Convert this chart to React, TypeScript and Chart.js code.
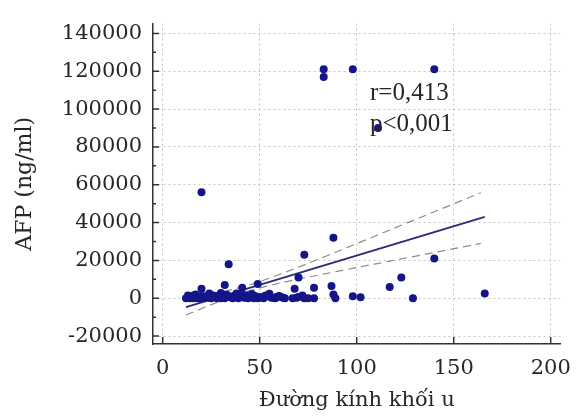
import React, { useEffect, useRef } from "react";
import { Chart, registerables } from "chart.js";

Chart.register(...registerables);

// Tumour diameter (x) and AFP (ng/ml) (y) for each patient
const sizeX: number[] = [
  83, 83, 98, 140, 111, 20, 88, 73, 34, 140, 166, 129, 123, 117, 70, 68, 78, 78, 87, 88, 89, 98, 102, 49, 41, 32, 20,
  12, 13, 13, 14, 15, 15, 16, 17, 18, 19, 20, 21, 22, 23, 24, 25, 26, 27, 28, 29, 30, 31, 32, 33, 35, 36, 37, 38, 39, 40,
  42, 43, 44, 45, 46, 47, 48, 50, 52, 53, 55, 56, 58, 59, 60, 62, 67, 70, 72, 75,
  14, 16, 18, 20, 22, 24, 26, 28, 30, 32, 34, 36, 38, 41, 44, 47, 49, 51, 54, 57, 61, 63, 69, 73,
];
const afpY: number[] = [
  121000, 117000, 121000, 121000, 90000, 56000, 32000, 23000, 18000, 21000, 2500, 0, 11000, 6000, 11000, 5000, 5500, 0,
  6500, 2000, 0, 1000, 500, 7500, 5500, 7000, 5000,
  0, 500, 1500, 0, 1000, 300, 0, 2000, 500, 0, 1200, 0, 400, 800, 2500, 0, 1500, 600, 0, 1000, 2800, 300, 0, 1800, 500,
  0, 1200, 2500, 0, 900, 300, 1600, 0, 600, 2200, 0, 1000, 400, 0, 1500, 2400, 300, 0, 800, 1200, 300, 0, 600, 1400, 0,
  800, 1500, 0, 600, 1000, 200, 700, 1200, 0, 500, 1000, 300, 700, 1800, 200, 900, 0, 600, 1000, 200, 700, 0, 300, 0,
];

// Regression line and 95% confidence band
const fitX: number[] = [12, 166];
const fitY: number[] = [-4700, 43000];
const bandX: number[] = [12, 30, 45, 60, 90, 120, 164];
const upperY: number[] = [-700, 3200, 7100, 12500, 24700, 37300, 55800];
const lowerY: number[] = [-8900, -1400, 4000, 7900, 14200, 20200, 29000];

const xTicks: number[] = [0, 50, 100, 150, 200];
const yTicks: number[] = [-20000, 0, 20000, 40000, 60000, 80000, 100000, 120000, 140000];
const yMinorTicks: number[] = [-10000, 10000, 30000, 50000, 70000, 90000, 110000, 130000];

const annotations: string[] = ["r=0,413", "p<0,001"];

const xTitle = "Đường kính khối u";
const yTitle = "AFP (ng/ml)";

const FONT = "'DejaVu Serif', serif";
const TEXT = "#262626";

const innerTicks = {
  id: "innerTicks",
  afterDatasetsDraw(chart: any) {
    const { ctx, chartArea, scales } = chart;
    const xs = scales.x;
    const ys = scales.y;
    ctx.save();
    ctx.strokeStyle = "#333";
    ctx.lineWidth = 1.5;
    ctx.setLineDash([]);
    ctx.beginPath();
    for (const v of xTicks) {
      const p = xs.getPixelForValue(v);
      ctx.moveTo(p, chartArea.bottom);
      ctx.lineTo(p, chartArea.bottom - 7);
    }
    for (const v of yTicks) {
      const p = ys.getPixelForValue(v);
      ctx.moveTo(chartArea.left, p);
      ctx.lineTo(chartArea.left + 6, p);
    }
    for (const v of yMinorTicks) {
      const p = ys.getPixelForValue(v);
      ctx.moveTo(chartArea.left, p);
      ctx.lineTo(chartArea.left + 3, p);
    }
    ctx.stroke();

    ctx.fillStyle = TEXT;
    ctx.font = "25px 'Liberation Serif', serif";
    ctx.textAlign = "left";
    ctx.textBaseline = "alphabetic";
    ctx.fillText(annotations[0], 370, 100);
    ctx.fillText(annotations[1], 370, 131);
    ctx.restore();
  },
};

export default function App() {
  const ref = useRef<HTMLCanvasElement>(null);

  useEffect(() => {
    if (!ref.current) return;
    const points = sizeX.map((x, i) => ({ x, y: afpY[i] }));
    const fit = fitX.map((x, i) => ({ x, y: fitY[i] }));
    const upper = bandX.map((x, i) => ({ x, y: upperY[i] }));
    const lower = bandX.map((x, i) => ({ x, y: lowerY[i] }));

    const chart = new Chart(ref.current, {
      type: "scatter",
      data: {
        datasets: [
          {
            type: "line",
            data: upper,
            borderColor: "#8c8c8c",
            borderWidth: 1.2,
            borderDash: [8, 5],
            pointRadius: 0,
            cubicInterpolationMode: "monotone",
            order: 3,
          } as any,
          {
            type: "line",
            data: lower,
            borderColor: "#8c8c8c",
            borderWidth: 1.2,
            borderDash: [8, 5],
            pointRadius: 0,
            cubicInterpolationMode: "monotone",
            order: 3,
          } as any,
          {
            type: "line",
            data: fit,
            borderColor: "#2a2a78",
            borderWidth: 1.8,
            pointRadius: 0,
            order: 2,
          } as any,
          {
            data: points,
            backgroundColor: "#15158a",
            borderWidth: 0,
            pointRadius: 4,
            order: 1,
          },
        ],
      },
      options: {
        animation: false,
        responsive: false,
        devicePixelRatio: 1,
        layout: { padding: { left: 0, right: 11, top: 17, bottom: 0 } },
        plugins: { legend: { display: false }, tooltip: { enabled: false } },
        scales: {
          x: {
            type: "linear",
            min: -5,
            max: 205,
            afterFit: (s: any) => {
              s.height = 72;
            },
            afterBuildTicks: (s: any) => {
              s.ticks = xTicks.map((v) => ({ value: v }));
            },
            ticks: {
              font: { family: FONT, size: 21 },
              color: TEXT,
              padding: 12,
              maxRotation: 0,
              callback: (v: any) => String(v),
            },
            grid: { color: "#c4c4c4", lineWidth: 1, drawTicks: false },
            border: { display: true, color: "#333", width: 1.5, dash: [2, 3] },
            title: {
              display: true,
              text: xTitle,
              font: { family: FONT, size: 21 },
              color: TEXT,
              padding: { top: 0, bottom: 3 },
            },
          },
          y: {
            type: "linear",
            min: -24200,
            max: 145200,
            afterFit: (s: any) => {
              s.width = 153;
            },
            afterBuildTicks: (s: any) => {
              s.ticks = yTicks.map((v) => ({ value: v }));
            },
            ticks: {
              font: { family: FONT, size: 21 },
              color: TEXT,
              padding: 11,
              callback: (v: any) => String(v),
            },
            grid: { color: "#c4c4c4", lineWidth: 1, drawTicks: false },
            border: { display: true, color: "#333", width: 1.5, dash: [2, 3] },
            title: {
              display: true,
              text: yTitle,
              font: { family: FONT, size: 22 },
              color: TEXT,
              padding: { top: 12, bottom: 0 },
            },
          },
        },
      },
      plugins: [innerTicks],
    });
    return () => chart.destroy();
  }, []);

  return (
    <div style={{ position: "fixed", left: 0, top: 0, width: 583, height: 416, background: "#fff" }}>
      <canvas ref={ref} width={583} height={416} style={{ width: 583, height: 416 }} />
    </div>
  );
}
